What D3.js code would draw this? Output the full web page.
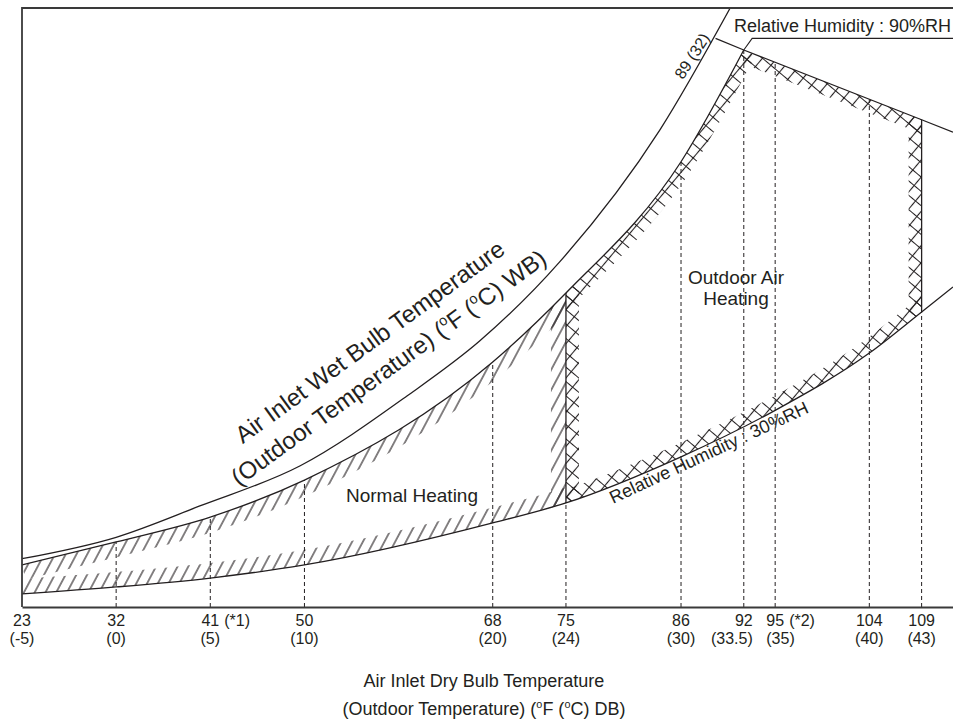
<!DOCTYPE html>
<html>
<head>
<meta charset="utf-8">
<script src="https://cdn.jsdelivr.net/npm/d3@7"></script>
<style>
  body { margin: 0; background: #fff; }
  text { font-family: "Liberation Sans", Arial, Helvetica, sans-serif; fill: #231f20; }
</style>
</head>
<body>
<div id="chart"></div>
<script>
// dry bulb ticks (deg F) and their deg C labels
const tickF = [23, 32, 41, 50, 68, 75, 86, 92, 95, 104, 109];
const tickC = ["(-5)", "(0)", "(5)", "(10)", "(20)", "(24)", "(30)", "(33.5)", "(35)", "(40)", "(43)"];
const tickNote = ["", "", "(*1)", "", "", "", "", "", "(*2)", "", ""];

// curves: dry bulb (F) vs humidity ratio (g/kg)
const satDB = [23, 32, 40, 49.6, 59.8, 66.8, 74.4, 84, 90.7];
const satW  = [2.7, 3.9, 5.65, 7.9, 11.8, 14.9, 19.3, 26.7, 33.5];

const rh90DB = [23, 32, 41, 50, 68, 75, 86, 92];
const rh90W  = [2.35, 3.64, 5.03, 7.1, 13.7, 17.56, 24.9, 31.15];

const rh30DB = [23, 32, 41, 50, 68, 75, 86, 95, 104, 109, 112];
const rh30W  = [0.73, 1.12, 1.62, 2.35, 4.7, 5.82, 8.4, 11.0, 14.2, 16.5, 17.9];

// 89 F (32 C) wet bulb line
const wbDB = [89.3, 92, 109, 112];
const wbW  = [31.8, 31.15, 27.25, 26.55];

// leader line for the 90%RH label
const leadDB = [92, 92.8, 112];
const leadW  = [31.15, 31.8, 31.8];

// dashed guides: which curve each one runs up to
const dashDB = [32, 41, 50, 68, 75, 86, 92, 95, 104, 109];
const dashTo = ["rh90", "rh90", "rh90", "rh90", "rh30", "rh90", "rh90", "wb", "wb", "rh30"];

const width = 953, height = 724;
const ink = "#231f20";

const x = d3.scaleLinear().domain([23, 112]).range([22, 953]);
const y = d3.scaleLinear().domain([0, 33.5]).range([607, 8]);

const zip = (a, b) => a.map((d, i) => [d, b[i]]);
const sat = zip(satDB, satW), rh90 = zip(rh90DB, rh90W), rh30 = zip(rh30DB, rh30W);
const wb = zip(wbDB, wbW), lead = zip(leadDB, leadW);

const at = {
  rh90: d3.scaleLinear().domain(rh90DB).range(rh90W),
  rh30: d3.scaleLinear().domain(rh30DB).range(rh30W),
  wb: d3.scaleLinear().domain(wbDB).range(wbW)
};

const curve = d3.line().x(d => x(d[0])).y(d => y(d[1])).curve(d3.curveMonotoneX);
const straight = d3.line().x(d => x(d[0])).y(d => y(d[1]));

let svg = d3.select("#chart").append("svg")
  .attr("width", width)
  .attr("height", height);

let defs = svg.append("defs");

// hatch patterns (lines kept in the middle of the tile so they are not cut)
let single = defs.append("pattern")
  .attr("id", "hatch1")
  .attr("patternUnits", "userSpaceOnUse")
  .attr("width", 9.5).attr("height", 9.5)
  .attr("patternTransform", "rotate(28)");
single.append("line")
  .attr("x1", 4.75).attr("y1", 0).attr("x2", 4.75).attr("y2", 9.5)
  .attr("stroke", ink).attr("stroke-width", 1.1);

let cross = defs.append("pattern")
  .attr("id", "hatch2")
  .attr("patternUnits", "userSpaceOnUse")
  .attr("width", 11).attr("height", 11)
  .attr("patternTransform", "rotate(40)");
cross.append("path")
  .attr("d", "M5.5,0 V11 M0,5.5 H11")
  .attr("fill", "none")
  .attr("stroke", ink).attr("stroke-width", 1.1);

// clip shapes
defs.append("clipPath").attr("id", "plot")
  .append("rect")
  .attr("x", x(23)).attr("y", y(33.5))
  .attr("width", x(112) - x(23)).attr("height", y(0) - y(33.5));

defs.append("clipPath").attr("id", "xNormal")
  .append("rect")
  .attr("x", x(23)).attr("y", 0)
  .attr("width", x(75) - x(23)).attr("height", height);

defs.append("clipPath").attr("id", "xOutdoor")
  .append("rect")
  .attr("x", x(75)).attr("y", 0)
  .attr("width", x(109) - x(75)).attr("height", height);

const below = d3.area().x(d => x(d[0])).y0(y(0)).y1(d => y(d[1]));
const above = d3.area().x(d => x(d[0])).y0(y(33.5)).y1(d => y(d[1]));

let topClip = defs.append("clipPath").attr("id", "underTop");
topClip.append("path").attr("d", below.curve(d3.curveMonotoneX)(rh90));
topClip.append("path").attr("d", below.curve(d3.curveLinear)(wb.filter(d => d[0] >= 92)));

defs.append("clipPath").attr("id", "overLow")
  .append("path")
  .attr("d", above.curve(d3.curveMonotoneX)(rh30));

// hatched bands: wide patterned strokes clipped into each region
function band(clipX, pattern, w, edges) {
  let g = svg.append("g").attr("clip-path", `url(#${clipX})`)
    .append("g").attr("clip-path", "url(#underTop)")
    .append("g").attr("clip-path", "url(#overLow)");
  edges.forEach(e => {
    g.append("path")
      .attr("d", e.line(e.data))
      .attr("fill", "none")
      .attr("stroke", `url(#${pattern})`)
      .attr("stroke-width", w);
  });
}

band("xNormal", "hatch1", 30, [
  {line: curve, data: rh90},
  {line: curve, data: rh30},
  {line: straight, data: [[75, 0], [75, 33.5]]}
]);

band("xOutdoor", "hatch2", 26, [
  {line: curve, data: rh90},
  {line: straight, data: wb},
  {line: curve, data: rh30},
  {line: straight, data: [[75, 0], [75, 33.5]]},
  {line: straight, data: [[109, 0], [109, 33.5]]}
]);

// dashed guides
svg.append("g").selectAll("line")
  .data(dashDB)
  .enter()
  .append("line")
  .attr("x1", d => x(d)).attr("x2", d => x(d))
  .attr("y1", y(0))
  .attr("y2", (d, i) => y(at[dashTo[i]](d)))
  .attr("stroke", ink)
  .attr("stroke-width", 1)
  .attr("stroke-dasharray", "4,3");

// solid region sides
svg.append("g").selectAll("line")
  .data([[75, "rh30", "rh90"], [109, "rh30", "wb"]])
  .enter()
  .append("line")
  .attr("x1", d => x(d[0])).attr("x2", d => x(d[0]))
  .attr("y1", d => y(at[d[1]](d[0])))
  .attr("y2", d => y(at[d[2]](d[0])))
  .attr("stroke", ink)
  .attr("stroke-width", 1.3);

// curves
let lines = svg.append("g").attr("clip-path", "url(#plot)")
  .attr("fill", "none").attr("stroke", ink).attr("stroke-width", 1.3);
lines.append("path").attr("d", curve(sat));
lines.append("path").attr("d", curve(rh90));
lines.append("path").attr("d", curve(rh30));
lines.append("path").attr("d", straight(wb));
lines.append("path").attr("d", straight(lead)).attr("stroke-width", 1.1);

// frame
svg.append("path")
  .attr("d", straight([[23, 0], [23, 33.5], [112, 33.5]]))
  .attr("fill", "none").attr("stroke", "#3a3a3a").attr("stroke-width", 1.8);

let xAxis = svg.append("g")
  .attr("transform", `translate(0, ${y(0)})`)
  .call(d3.axisBottom(x).tickValues(tickF).tickSize(0).tickSizeOuter(0).tickFormat(""));
xAxis.select(".domain").attr("stroke", "#3a3a3a").attr("stroke-width", 1.8);
xAxis.selectAll(".tick text").remove();

// two line tick labels
tickF.forEach((f, i) => {
  let top = svg.append("text")
    .attr("x", x(f)).attr("y", 626)
    .attr("text-anchor", "middle")
    .style("font-size", "16px")
    .text(f);
  let bb = top.node().getBBox();
  if (tickNote[i]) {
    svg.append("text")
      .attr("x", bb.x + bb.width + 5).attr("y", 626)
      .style("font-size", "16px")
      .text(tickNote[i]);
  }
  let anchor = "middle", lx = x(f);
  if (f === 92) { anchor = "end"; lx = bb.x + bb.width; }
  if (f === 95) { anchor = "start"; lx = bb.x; }
  svg.append("text")
    .attr("x", lx).attr("y", 644)
    .attr("text-anchor", anchor)
    .style("font-size", "16px")
    .text(tickC[i]);
});

// text with small raised "o" degree marks
function degreeLine(el, parts, sz) {
  let raised = false;
  parts.forEach(p => {
    if (p === "o") {
      el.append("tspan").attr("dy", -sz * 0.4).style("font-size", (sz * 0.6) + "px").text("o");
      raised = true;
    } else {
      el.append("tspan").attr("dy", raised ? sz * 0.4 : 0).text(p);
      raised = false;
    }
  });
}

// axis title
svg.append("text")
  .attr("x", 484).attr("y", 687)
  .attr("text-anchor", "middle")
  .style("font-size", "18px")
  .text("Air Inlet Dry Bulb Temperature");
let t2 = svg.append("text")
  .attr("x", 484).attr("y", 715)
  .attr("text-anchor", "middle")
  .style("font-size", "18px");
degreeLine(t2, ["(Outdoor Temperature) (", "o", "F (", "o", "C) DB)"], 18);

// wet bulb label along the saturation curve
let wbLabel = svg.append("g").attr("transform", "translate(370,342) rotate(-36)");
wbLabel.append("text")
  .attr("text-anchor", "middle").attr("y", 8)
  .style("font-size", "24px")
  .text("Air Inlet Wet Bulb Temperature");
let wl2 = wbLabel.append("text")
  .attr("text-anchor", "middle").attr("y", 40)
  .style("font-size", "24px");
degreeLine(wl2, ["(Outdoor Temperature) (", "o", "F (", "o", "C) WB)"], 24);

svg.append("text")
  .attr("transform", "translate(692,56) rotate(-57)")
  .attr("text-anchor", "middle").attr("dy", "0.35em")
  .style("font-size", "16px")
  .text("89 (32)");

svg.append("text")
  .attr("x", 951).attr("y", 32)
  .attr("text-anchor", "end")
  .style("font-size", "18px")
  .text("Relative Humidity : 90%RH");

svg.append("text")
  .attr("transform", "translate(613,504) rotate(-25)")
  .style("font-size", "18px")
  .text("Relative Humidity : 30%RH");

svg.append("text")
  .attr("x", 412).attr("y", 502)
  .attr("text-anchor", "middle")
  .style("font-size", "19px")
  .text("Normal Heating");

let oa = svg.append("text")
  .attr("text-anchor", "middle")
  .style("font-size", "19px");
oa.append("tspan").attr("x", 736).attr("y", 284).text("Outdoor Air");
oa.append("tspan").attr("x", 736).attr("y", 305).text("Heating");
</script>
</body>
</html>
